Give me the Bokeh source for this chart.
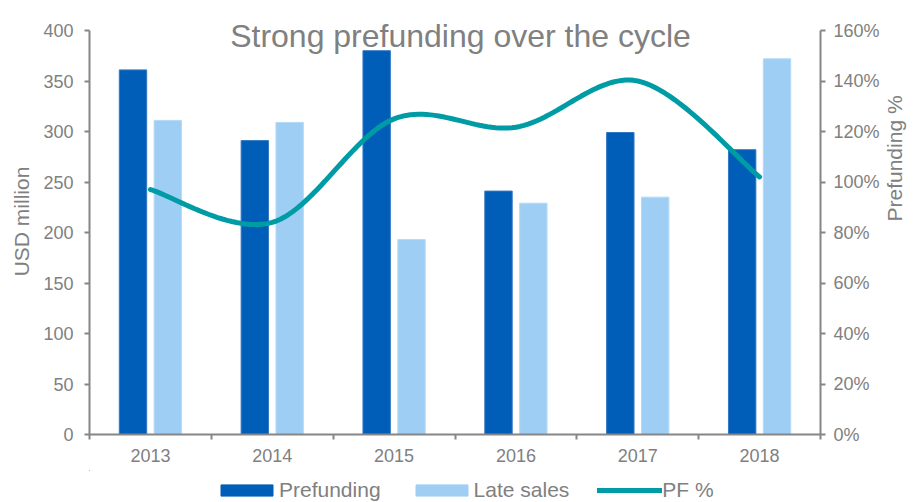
import numpy as np
from bokeh.plotting import figure
from bokeh.layouts import column
from bokeh.models import (Range1d, LinearAxis, FixedTicker, NumeralTickFormatter,
                          Legend, LegendItem, Label, ColumnDataSource)
from bokeh.transform import dodge
from bokeh.embed import file_html
from bokeh.resources import INLINE

# ---- data ----
years = ["2013", "2014", "2015", "2016", "2017", "2018"]
prefunding = [361, 291, 380, 241, 299, 282]
late_sales = [311, 309, 193, 229, 235, 372]
pf_pct = [0.97, 0.84, 1.25, 1.217, 1.40, 1.02]
usd_ticks = [0, 50, 100, 150, 200, 250, 300, 350, 400]
pct_ticks = [0, 0.2, 0.4, 0.6, 0.8, 1.0, 1.2, 1.4, 1.6]
usd_max, pct_max = 400, 1.6

# ---- styles ----
GRAY = "#808080"
AXIS = "#868686"
DARK = "#005EB8"
LIGHT = "#9ECEF3"
TEAL = "#009CA6"
FONT = "Liberation Sans"

# frame: top border 8px, 22px headroom above the 400 / 160% tick for the title
FRAME_H = 426
AXIS_H = 404
headroom = FRAME_H / AXIS_H

pos = [i + 0.5 for i in range(len(years))]
src = ColumnDataSource(dict(pos=pos, years=years, pre=prefunding, late=late_sales,
                            pct=pf_pct))

p = figure(width=920, height=470, x_range=Range1d(0, len(years)),
           y_range=Range1d(0, usd_max * headroom),
           output_backend="svg", toolbar_location=None,
           min_border_left=89, min_border_right=97, min_border_top=8, min_border_bottom=36,
           outline_line_color=None, background_fill_color="white", border_fill_color="white")
p.xgrid.visible = False
p.ygrid.visible = False
p.extra_y_ranges = {"pct": Range1d(0, pct_max * headroom)}

r1 = p.vbar(x=dodge("pos", -0.143), top="pre", width=0.225, source=src,
            fill_color=DARK, line_color="#3478C4", line_width=1)
r2 = p.vbar(x=dodge("pos", 0.143), top="late", width=0.225, source=src,
            fill_color=LIGHT, line_color="#B4DAF6", line_width=1)


def smooth(xs, ys, n=30):
    pts = list(zip(xs, ys))
    m = len(pts)
    ox, oy = [], []
    for i in range(m - 1):
        p0 = pts[i - 1] if i > 0 else pts[i]
        p1 = pts[i]
        p2 = pts[i + 1]
        p3 = pts[i + 2] if i + 2 < m else pts[i + 1]
        c1 = (p1[0] + (p2[0] - p0[0]) / 6, p1[1] + (p2[1] - p0[1]) / 6)
        c2 = (p2[0] - (p3[0] - p1[0]) / 6, p2[1] - (p3[1] - p1[1]) / 6)
        t = np.linspace(0, 1, n, endpoint=(i == m - 2))
        a = (1 - t) ** 3
        b = 3 * (1 - t) ** 2 * t
        c = 3 * (1 - t) * t ** 2
        d = t ** 3
        ox.extend(a * p1[0] + b * c1[0] + c * c2[0] + d * p2[0])
        oy.extend(a * p1[1] + b * c1[1] + c * c2[1] + d * p2[1])
    return ox, oy


lx, ly = smooth(pos, pf_pct)
r3 = p.line(lx, ly, y_range_name="pct", line_color=TEAL, line_width=5, line_cap="round")

# ---- title (inside the frame headroom) ----
title = Label(x=371, y=399, x_units="screen", y_units="screen",
              text="Strong prefunding over the cycle", text_align="center",
              text_baseline="alphabetic", text_font=FONT, text_font_size="32px",
              text_color=GRAY)
p.add_layout(title)

# ---- x axis ----
xa = p.xaxis[0]
xa.ticker = FixedTicker(ticks=pos, minor_ticks=list(range(len(years) + 1)))
xa.major_label_overrides = {x: y for x, y in zip(pos, years)}
xa.major_tick_line_color = None
xa.major_tick_out = 0
xa.major_tick_in = 0
xa.minor_tick_out = 5
xa.minor_tick_in = 0
xa.minor_tick_line_color = AXIS
xa.minor_tick_line_width = 2
xa.axis_line_color = AXIS
xa.axis_line_width = 2
xa.major_label_text_font = FONT
xa.major_label_text_font_size = "18px"
xa.major_label_text_color = GRAY
xa.major_label_standoff = 9

# ---- left axis ----
ya = p.yaxis[0]
ya.ticker = FixedTicker(ticks=usd_ticks)
ya.bounds = (0, usd_max)
ya.major_tick_out = 5
ya.major_tick_in = 0
ya.minor_tick_line_color = None
ya.major_tick_line_color = AXIS
ya.major_tick_line_width = 2
ya.axis_line_color = AXIS
ya.axis_line_width = 2
ya.major_label_text_font = FONT
ya.major_label_text_font_size = "18px"
ya.major_label_text_color = GRAY
ya.major_label_standoff = 11
ya.axis_label = "USD million"
ya.axis_label_text_font = FONT
ya.axis_label_text_font_size = "21px"
ya.axis_label_text_font_style = "normal"
ya.axis_label_text_color = GRAY
ya.axis_label_standoff = 7

# ---- right axis ----
ra = LinearAxis(y_range_name="pct", ticker=FixedTicker(ticks=pct_ticks),
                formatter=NumeralTickFormatter(format="0%"), bounds=(0, pct_max))
ra.major_tick_out = 5
ra.major_tick_in = 0
ra.minor_tick_line_color = None
ra.major_tick_line_color = AXIS
ra.major_tick_line_width = 2
ra.axis_line_color = AXIS
ra.axis_line_width = 2
ra.major_label_text_font = FONT
ra.major_label_text_font_size = "18px"
ra.major_label_text_color = GRAY
ra.major_label_standoff = 8
ra.axis_label = "Prefunding %"
ra.axis_label_text_font = FONT
ra.axis_label_text_font_size = "21px"
ra.axis_label_text_font_style = "normal"
ra.axis_label_text_color = GRAY
ra.axis_label_standoff = 12
ra.axis_label_orientation = np.pi / 2
p.add_layout(ra, "right")

# ---- legend strip (separate figure below the chart; its frame aligns with the chart's) ----
lf = figure(width=920, height=32, x_range=Range1d(6.5, 7.5), y_range=Range1d(-2, -1),
            output_backend="svg", toolbar_location=None, x_axis_type=None, y_axis_type=None,
            min_border=0, min_border_top=0, min_border_bottom=0, outline_line_color=None,
            background_fill_color="white", border_fill_color="white")
lf.xgrid.visible = False
lf.ygrid.visible = False
# proxies drawn from the same data but outside the strip's visible ranges
e1 = lf.vbar(x="pos", top="pre", width=0.225, source=src, fill_color=DARK, line_color=DARK)
e2 = lf.vbar(x="pos", top="late", width=0.225, source=src, fill_color=LIGHT, line_color=LIGHT)
e3 = lf.line(x="pos", y="pct", source=src, line_color=TEAL, line_width=5, line_cap="round")
legend = Legend(items=[LegendItem(label="Prefunding", renderers=[e1]),
                       LegendItem(label="Late sales", renderers=[e2]),
                       LegendItem(label="PF %", renderers=[e3])],
                location=(125, 0), orientation="horizontal", padding=0, margin=0, spacing=28,
                border_line_color=None, background_fill_alpha=0,
                glyph_width=65, glyph_height=14, label_standoff=0,
                label_text_font=FONT, label_text_font_size="21px", label_text_color=GRAY)
lf.add_layout(legend, "center")

layout = column(p, lf, spacing=0)
open("out.html", "w").write(file_html(layout, INLINE))
